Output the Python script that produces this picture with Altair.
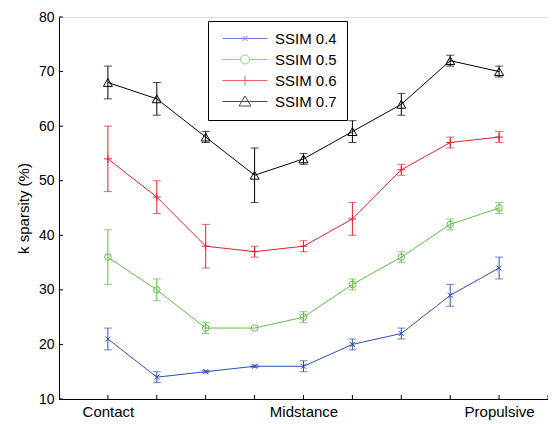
import altair as alt
import pandas as pd

names = ["SSIM 0.4", "SSIM 0.5", "SSIM 0.6", "SSIM 0.7"]
colors = ["#2f4fb5", "#5fbf45", "#e8202a", "#000000"]
phase_pos = [1, 2, 3, 4, 5, 6, 7, 8, 9]
phase_labels = {1: "Contact", 5: "Midstance", 9: "Propulsive"}

ssim04 = [21, 14, 15, 16, 16, 20, 22, 29, 34]
ssim04_lo = [19, 13, 14.8, 15.8, 15, 19, 21, 27, 32]
ssim04_hi = [23, 15, 15.2, 16.2, 17, 21, 23, 31, 36]

ssim05 = [36, 30, 23, 23, 25, 31, 36, 42, 45]
ssim05_lo = [31, 28, 22, 23, 24, 30, 35, 41, 44]
ssim05_hi = [41, 32, 24, 23, 26, 32, 37, 43, 46]

ssim06 = [54, 47, 38, 37, 38, 43, 52, 57, 58]
ssim06_lo = [48, 44, 34, 36, 37, 40, 51, 56, 57]
ssim06_hi = [60, 50, 42, 38, 39, 46, 53, 58, 59]

ssim07 = [68, 65, 58, 51, 54, 59, 64, 72, 70]
ssim07_lo = [65, 62, 57, 46, 53, 57, 62, 71, 69]
ssim07_hi = [71, 68, 59, 56, 55, 61, 66, 73, 71]

x_ticks = [1, 2, 3, 4, 5, 6, 7, 8, 9, 10]
y_ticks = [10, 20, 30, 40, 50, 60, 70, 80]

series = [(ssim04, ssim04_lo, ssim04_hi), (ssim05, ssim05_lo, ssim05_hi),
          (ssim06, ssim06_lo, ssim06_hi), (ssim07, ssim07_lo, ssim07_hi)]
rows = []
for name, (v, lo, hi) in zip(names, series):
    for i, x in enumerate(phase_pos):
        rows.append({"series": name, "x": x, "v": v[i], "lo": lo[i], "hi": hi[i]})
df = pd.DataFrame(rows)

W, H = 489, 382
FONT = "Liberation Sans"

xs = alt.Scale(domain=[0, 10], nice=False, zero=False)
ys = alt.Scale(domain=[10, 80], nice=False, zero=False)
cscale = alt.Scale(domain=names, range=colors)

label_expr = "datum.value == 1 ? 'Contact' : datum.value == 5 ? 'Midstance' : datum.value == 9 ? 'Propulsive' : ''"

X = alt.X("x:Q", scale=xs,
          axis=alt.Axis(values=[1, 5, 9], labelExpr=label_expr, ticks=False, grid=False,
                        domainColor="black", domainWidth=1, labelFontSize=15, labelFont=FONT,
                        labelColor="black", labelPadding=5, title=None))
Y = alt.Y("v:Q", scale=ys,
          axis=alt.Axis(values=y_ticks, ticks=False, grid=False, domainColor="black",
                        domainWidth=1, labelFontSize=14, labelFont=FONT, labelColor="black",
                        labelPadding=5, title="k sparsity (%)", titleFont=FONT,
                        titleFontSize=15, titleFontWeight="normal", titleColor="black",
                        titlePadding=7))
C = alt.Color("series:N", scale=cscale, legend=None)

base = alt.Chart(df)

lines = base.mark_line(strokeWidth=1).encode(x=X, y=Y, color=C)

err = base.transform_filter("datum.hi > datum.lo")
rules = err.mark_rule(strokeWidth=1).encode(
    x=alt.X("x:Q", scale=xs), y=alt.Y("lo:Q", scale=ys), y2="hi:Q", color=C)
cap_lo = err.mark_tick(orient="horizontal", size=8, thickness=1).encode(
    x=alt.X("x:Q", scale=xs), y=alt.Y("lo:Q", scale=ys), color=C)
cap_hi = err.mark_tick(orient="horizontal", size=8, thickness=1).encode(
    x=alt.X("x:Q", scale=xs), y=alt.Y("hi:Q", scale=ys), color=C)

marker_paths = ["M-1,-1L1,1M-1,1L1,-1", "circle", "M-1,0H1M0,-1V1", "triangle-up"]
marker_sizes = [25, 81, 100, 144]
points = base.mark_point(filled=False, strokeWidth=1, opacity=1).encode(
    x=alt.X("x:Q", scale=xs), y=alt.Y("v:Q", scale=ys), color=C,
    shape=alt.Shape("series:N", scale=alt.Scale(domain=names, range=marker_paths), legend=None),
    size=alt.Size("series:N", scale=alt.Scale(domain=names, range=marker_sizes), legend=None))

legend_paths = [
    "M-0.6,0H8.4M3.4,-0.5L4.4,0.5M3.4,0.5L4.4,-0.5",
    "M-0.6,0H3M4.8,0H8.4M4.8,0A0.9,0.9,0,1,1,3.0,0A0.9,0.9,0,1,1,4.8,0",
    "M-0.6,0H8.4M3.9,-1V1",
    "M-0.6,0H8.4M3.9,-1.1L5.1,0.9L2.7,0.9Z",
]
leg_props = dict(orient="none", legendX=149, legendY=4, title=None, padding=10,
                 strokeColor="black", fillColor="white",
                 symbolSize=100, symbolStrokeWidth=1, labelFontSize=15, labelFont=FONT,
                 labelColor="black", labelOffset=42, rowPadding=5)
legend_layer = base.transform_filter("false").mark_point(filled=False, strokeWidth=1, size=100).encode(
    x=alt.X("x:Q", scale=xs), y=alt.Y("v:Q", scale=ys),
    color=alt.Color("series:N", scale=cscale, legend=alt.Legend(**leg_props)),
    shape=alt.Shape("series:N", scale=alt.Scale(domain=names, range=legend_paths),
                    legend=alt.Legend(**leg_props)))

xt = pd.DataFrame({"t": x_ticks})
yt = pd.DataFrame({"t": y_ticks})
xtick_rules = alt.Chart(xt).mark_rule(color="black", strokeWidth=1).encode(
    x=alt.X("t:Q", scale=xs), y=alt.value(H), y2=alt.value(H - 4))
ytick_rules = alt.Chart(yt).mark_rule(color="black", strokeWidth=1).encode(
    y=alt.Y("t:Q", scale=ys), x=alt.value(0), x2=alt.value(4))

chart = alt.layer(lines, rules, cap_lo, cap_hi, points, legend_layer, xtick_rules, ytick_rules).resolve_scale(
    color="independent", shape="independent", size="independent"
).properties(
    width=W, height=H,
    autosize=alt.AutoSizeParams(type="none"),
    padding={"left": 51, "top": 9, "right": 0, "bottom": 24},
).configure_view(stroke=None).configure_legend(
    strokeWidth=1.5, cornerRadius=0
).configure(background="white")

chart.save("out.html", embed_options={"renderer": "svg", "actions": False})
